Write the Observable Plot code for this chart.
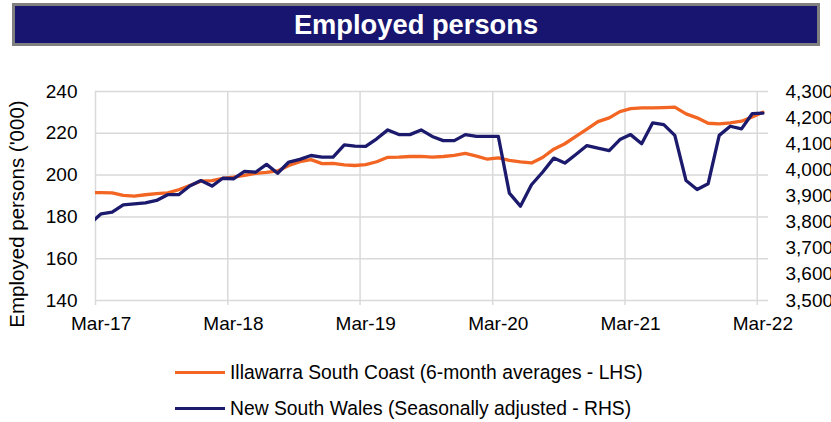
<!DOCTYPE html>
<html><head><meta charset="utf-8">
<script src="https://cdn.jsdelivr.net/npm/d3@7"></script>
<script src="https://cdn.jsdelivr.net/npm/@observablehq/plot@0.6"></script>
<style>
body{margin:0;background:#fff;font-family:"Liberation Sans",Arial,sans-serif;width:831px;height:422px;overflow:hidden;position:relative}
#banner{position:absolute;left:12px;top:3px;width:802px;height:37px;background:#17156f;border:3px solid #808080;color:#fff;font-weight:bold;font-size:27.3px;text-align:center;line-height:37px;white-space:nowrap}
#chart{position:absolute;left:0;top:46px}
.leg{position:absolute;left:175px;font-size:19.3px;line-height:22px;height:22px;white-space:nowrap;color:#000}
.leg .sw{position:absolute;left:0;top:9px;width:50px;height:3px}
.leg .tx{position:absolute;left:55px;top:0}
</style></head>
<body>
<div id="banner">Employed persons</div>
<div id="chart"></div>
<div class="leg" style="top:361.5px"><span class="sw" style="background:#f26522"></span><span class="tx">Illawarra South Coast (6-month averages - LHS)</span></div>
<div class="leg" style="top:398px"><span class="sw" style="background:#1c1a6d"></span><span class="tx">New South Wales (Seasonally adjusted - RHS)</span></div>
<script>
// Monthly observations Feb-17 .. Mar-22 (first one only shows as the clipped start)
const months = d3.utcMonth.range(new Date(Date.UTC(2017,1,1)), new Date(Date.UTC(2022,3,1)));

// Illawarra South Coast, 6-month averages ('000) - LHS
const illawarra = [
  191.6,191.6,191.5,190.3,189.9,190.6,191.1,191.5,193.0,195.0,197.1,197.4,198.4,
  199.0,199.9,200.8,201.3,202.0,204.6,206.4,207.4,205.5,205.6,204.9,204.6,
  205.0,206.4,208.5,208.6,208.9,209.0,208.6,208.9,209.4,210.4,209.1,207.6,
  208.2,207.0,206.3,205.8,208.4,212.4,215.0,218.5,222.0,225.6,227.4,230.4,
  231.8,232.2,232.2,232.3,232.5,229.3,227.4,224.8,224.5,225.0,225.8,227.8,
  230.1
];

// New South Wales, seasonally adjusted ('000) - RHS
const nsw = [
  3795,3832,3838,3866,3870,3874,3883,3905,3905,3938,3959,3938,3968,
  3966,3994,3991,4021,3987,4030,4040,4055,4049,4049,4096,4091,
  4090,4119,4153,4135,4135,4153,4128,4112,4112,4135,4128,4128,
  4128,3911,3861,3943,3991,4045,4026,4059,4093,4083,4074,4116,
  4135,4100,4180,4173,4132,3959,3925,3947,4132,4167,4157,4215,
  4217
];

const xTickLabels = ["Mar-17","Mar-18","Mar-19","Mar-20","Mar-21","Mar-22"];
const tickYears = [2017,2018,2019,2020,2021,2022];
const leftTicks = [140,160,180,200,220,240];
const rightTicks = [3500,3600,3700,3800,3900,4000,4100,4200,4300];

const mid = d => new Date((+d + +d3.utcMonth.offset(d,1))/2);
const toLeft = v => 140 + (v - 3500) / 8;
const data = months.map((m,i) => ({date: mid(m), ill: illawarra[i], nsw: toLeft(nsw[i])}));
const yearStarts = tickYears.map(y => new Date(Date.UTC(y,2,1)));
const labelDates = yearStarts.map(mid);
const xLabelMap = new Map(labelDates.map((d,i) => [+d, xTickLabels[i]]));
const rightLabelMap = new Map(rightTicks.map(v => [toLeft(v), d3.format(",")(v)]));

const grid = "#d9d9d9";
const chart = Plot.plot({
  width: 831, height: 300,
  marginTop: 45, marginBottom: 46, marginLeft: 95, marginRight: 63,
  style: {fontFamily: "Liberation Sans, Arial, sans-serif", fontSize: "19px", color: "#000", background: "transparent", overflow: "visible"},
  x: {type: "utc", domain: [new Date(Date.UTC(2017,2,1)), new Date(Date.UTC(2022,3,1))]},
  y: {domain: [140, 240]},
  marks: [
    Plot.gridY(leftTicks, {stroke: grid, strokeOpacity: 1, strokeWidth: 1.5}),
    Plot.gridX(yearStarts, {stroke: grid, strokeOpacity: 1, strokeWidth: 1.5}),
    Plot.axisX(yearStarts, {tickSize: 5, tickFormat: () => "", stroke: grid, strokeWidth: 1.5, label: null}),
    Plot.axisX(labelDates, {tickSize: 0, tickPadding: 16, tickFormat: d => xLabelMap.get(+d), label: null}),
    Plot.axisY(leftTicks, {anchor: "left", tickSize: 0, tickPadding: 18, label: null}),
    Plot.axisY(rightTicks.map(toLeft), {anchor: "right", tickSize: 0, tickPadding: 17, textAnchor: "start", tickFormat: d => rightLabelMap.get(d), label: null}),
    Plot.line(data, {x: "date", y: "ill", stroke: "#f26522", strokeWidth: 3.3, clip: true}),
    Plot.line(data, {x: "date", y: "nsw", stroke: "#1c1a6d", strokeWidth: 3.3, clip: true}),
    Plot.text(["Employed persons ('000)"], {text: d => d, frameAnchor: "left", rotate: -90, dx: -78, dy: 18, fontSize: 20.5, textAnchor: "middle", fill: "#000"})
  ]
});
document.getElementById("chart").appendChild(chart);
</script>
</body></html>
